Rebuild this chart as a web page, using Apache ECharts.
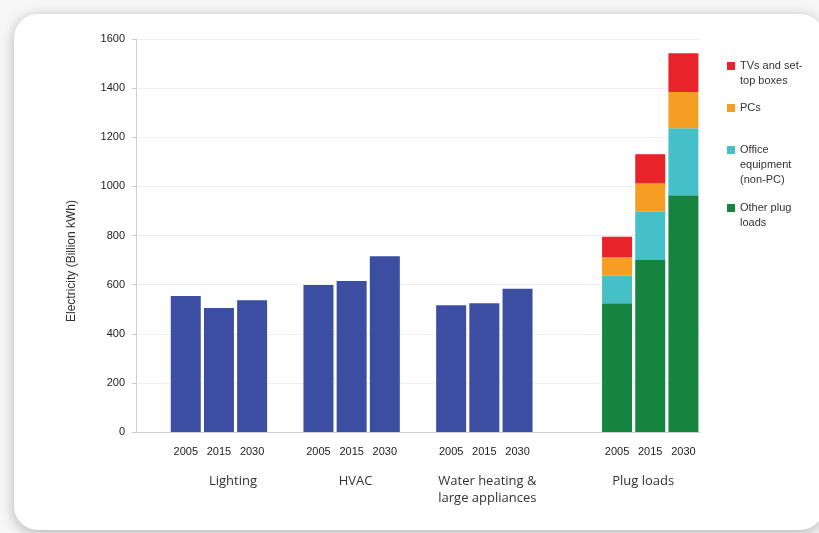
<!DOCTYPE html>
<html>
<head>
<meta charset="utf-8">
<script src="https://cdn.jsdelivr.net/npm/echarts@6/dist/echarts.min.js"></script>
<style>
  html, body { margin: 0; padding: 0; background: #f7f7f7; }
  #main { width: 819px; height: 533px; }
</style>
</head>
<body>
<div id="main"></div>
<script>
// data (billion kWh)
var years = ['2005', '2015', '2030'];
var groups = ['Lighting', 'HVAC', 'Water heating &\nlarge appliances', 'Plug loads'];
var lighting = [554, 505, 536];
var hvac = [598, 615, 716];
var waterHeating = [516, 524, 583];
var plugOther = [524, 700, 964];
var plugOffice = [112, 199, 273];
var plugPCs = [75, 113, 147];
var plugTVs = [84, 119, 158];
var yTicks = { min: 0, max: 1600, step: 200 };

(function () {
    var myChart = echarts.init(document.getElementById('main'));

    // slots on the category axis: empty slots make the gaps between groups
    var gapsBefore = [1, 1, 1, 2];
    var yearCats = [], groupCats = [];
    var blue = [], other = [], office = [], pcs = [], tvs = [];
    var singles = [lighting, hvac, waterHeating];
    function pushEmpty() {
        yearCats.push(''); groupCats.push('');
        [blue, other, office, pcs, tvs].forEach(function (a) { a.push('-'); });
    }
    for (var g = 0; g < groups.length; g++) {
        for (var k = 0; k < gapsBefore[g]; k++) pushEmpty();
        for (var i = 0; i < years.length; i++) {
            yearCats.push(years[i]);
            groupCats.push(i === 1 ? groups[g] : '');
            if (g < 3) {
                blue.push(singles[g][i]);
                other.push('-'); office.push('-'); pcs.push('-'); tvs.push('-');
            } else {
                blue.push('-');
                other.push(plugOther[i]); office.push(plugOffice[i]);
                pcs.push(plugPCs[i]); tvs.push(plugTVs[i]);
            }
        }
    }

    var colors = {
        blue: '#3b4ea2',
        other: '#14843f',
        office: '#45c0c8',
        pcs: '#f59e22',
        tvs: '#e8232a'
    };
    var legendText = {
        'TVs and set-top boxes': 'TVs and set-\ntop boxes',
        'PCs': 'PCs',
        'Office equipment (non-PC)': 'Office\nequipment\n(non-PC)',
        'Other plug loads': 'Other plug\nloads'
    };
    // one legend per entry so each sits where it does in the picture;
    // leading blank lines keep the first line level with the square
    function legendFor(name, top) {
        return {
            data: [name],
            left: 727,
            top: top,
            padding: 0,
            icon: 'rect',
            itemWidth: 8,
            itemHeight: 8,
            itemGap: 0,
            formatter: function (n) {
                var lines = legendText[n].split('\n');
                var pad = [];
                for (var j = 1; j < lines.length; j++) pad.push(' ');
                return pad.concat(lines).join('\n');
            },
            textStyle: {
                fontFamily: 'Liberation Sans',
                fontSize: 11,
                lineHeight: 15,
                color: '#333'
            }
        };
    }
    var groupShift = {
        'Lighting': [0, 0, 0, 28],
        'HVAC': [0, 0, 0, 8],
        'Water heating &\nlarge appliances': [0, 0, 0, 6],
        'Plug loads': [0, 14, 0, 0]
    };

    function bar(name, data, color, stack) {
        return {
            name: name,
            type: 'bar',
            stack: stack,
            data: data,
            barWidth: 30,
            barGap: '-100%',
            itemStyle: { color: color },
            emphasis: { disabled: true }
        };
    }

    var option = {
        animation: false,
        backgroundColor: '#f7f7f7',
        graphic: [{
            type: 'rect',
            z: -10,
            silent: true,
            shape: { x: 14, y: 14, width: 810, height: 516, r: 24 },
            style: {
                fill: '#ffffff',
                shadowBlur: 14,
                shadowColor: 'rgba(0,0,0,0.28)',
                shadowOffsetY: 3
            }
        }],
        legend: [
            legendFor('TVs and set-top boxes', 43.5),
            legendFor('PCs', 100.5),
            legendFor('Office equipment (non-PC)', 112.5),
            legendFor('Other plug loads', 185.5)
        ],
        grid: { left: 136, right: 119, top: 39, bottom: 101 },
        xAxis: [{
            type: 'category',
            data: yearCats,
            axisLine: { lineStyle: { color: '#cfcfcf' } },
            axisTick: { show: false },
            axisLabel: {
                interval: 0,
                margin: 14,
                fontFamily: 'Liberation Sans',
                fontSize: 11,
                color: '#222'
            }
        }, {
            type: 'category',
            position: 'bottom',
            data: groupCats,
            axisLine: { show: false },
            axisTick: { show: false },
            axisLabel: {
                interval: 0,
                margin: 41,
                fontFamily: 'Open Sans',
                fontSize: 13,
                lineHeight: 17,
                color: '#333',
                rich: {}
            }
        }],
        yAxis: {
            type: 'value',
            min: yTicks.min,
            max: yTicks.max,
            interval: yTicks.step,
            name: 'Electricity (Billion kWh)',
            nameLocation: 'middle',
            nameGap: 58,
            nameTextStyle: {
                fontFamily: 'Liberation Sans',
                fontSize: 12,
                color: '#333',
                padding: [0, 51, 0, 0]
            },
            axisLine: { show: true, lineStyle: { color: '#cfcfcf' } },
            axisTick: { show: true, length: 4, lineStyle: { color: '#cfcfcf' } },
            axisLabel: {
                margin: 11,
                fontFamily: 'Liberation Sans',
                fontSize: 11,
                color: '#222',
                formatter: function (v) { return String(v); }
            },
            splitLine: { lineStyle: { color: '#efefef' } }
        },
        series: [
            bar('Total', blue, colors.blue),
            bar('Other plug loads', other, colors.other, 'plug'),
            bar('Office equipment (non-PC)', office, colors.office, 'plug'),
            bar('PCs', pcs, colors.pcs, 'plug'),
            bar('TVs and set-top boxes', tvs, colors.tvs, 'plug')
        ]
    };

    // shift the group labels sideways a little, like in the picture
    option.xAxis[1].axisLabel.formatter = function (v) {
        if (!v) return '';
        var key = 's' + groups.indexOf(v);
        return v.split('\n').map(function (line) {
            return '{' + key + '|' + line + '}';
        }).join('\n');
    };
    groups.forEach(function (name, i) {
        option.xAxis[1].axisLabel.rich['s' + i] = {
            fontFamily: 'Open Sans', fontSize: 13, lineHeight: 17, color: '#333',
            padding: groupShift[name]
        };
    });

    myChart.setOption(option);
    window.addEventListener('resize', function () {
        myChart.resize();
    });
})();
</script>
</body>
</html>
